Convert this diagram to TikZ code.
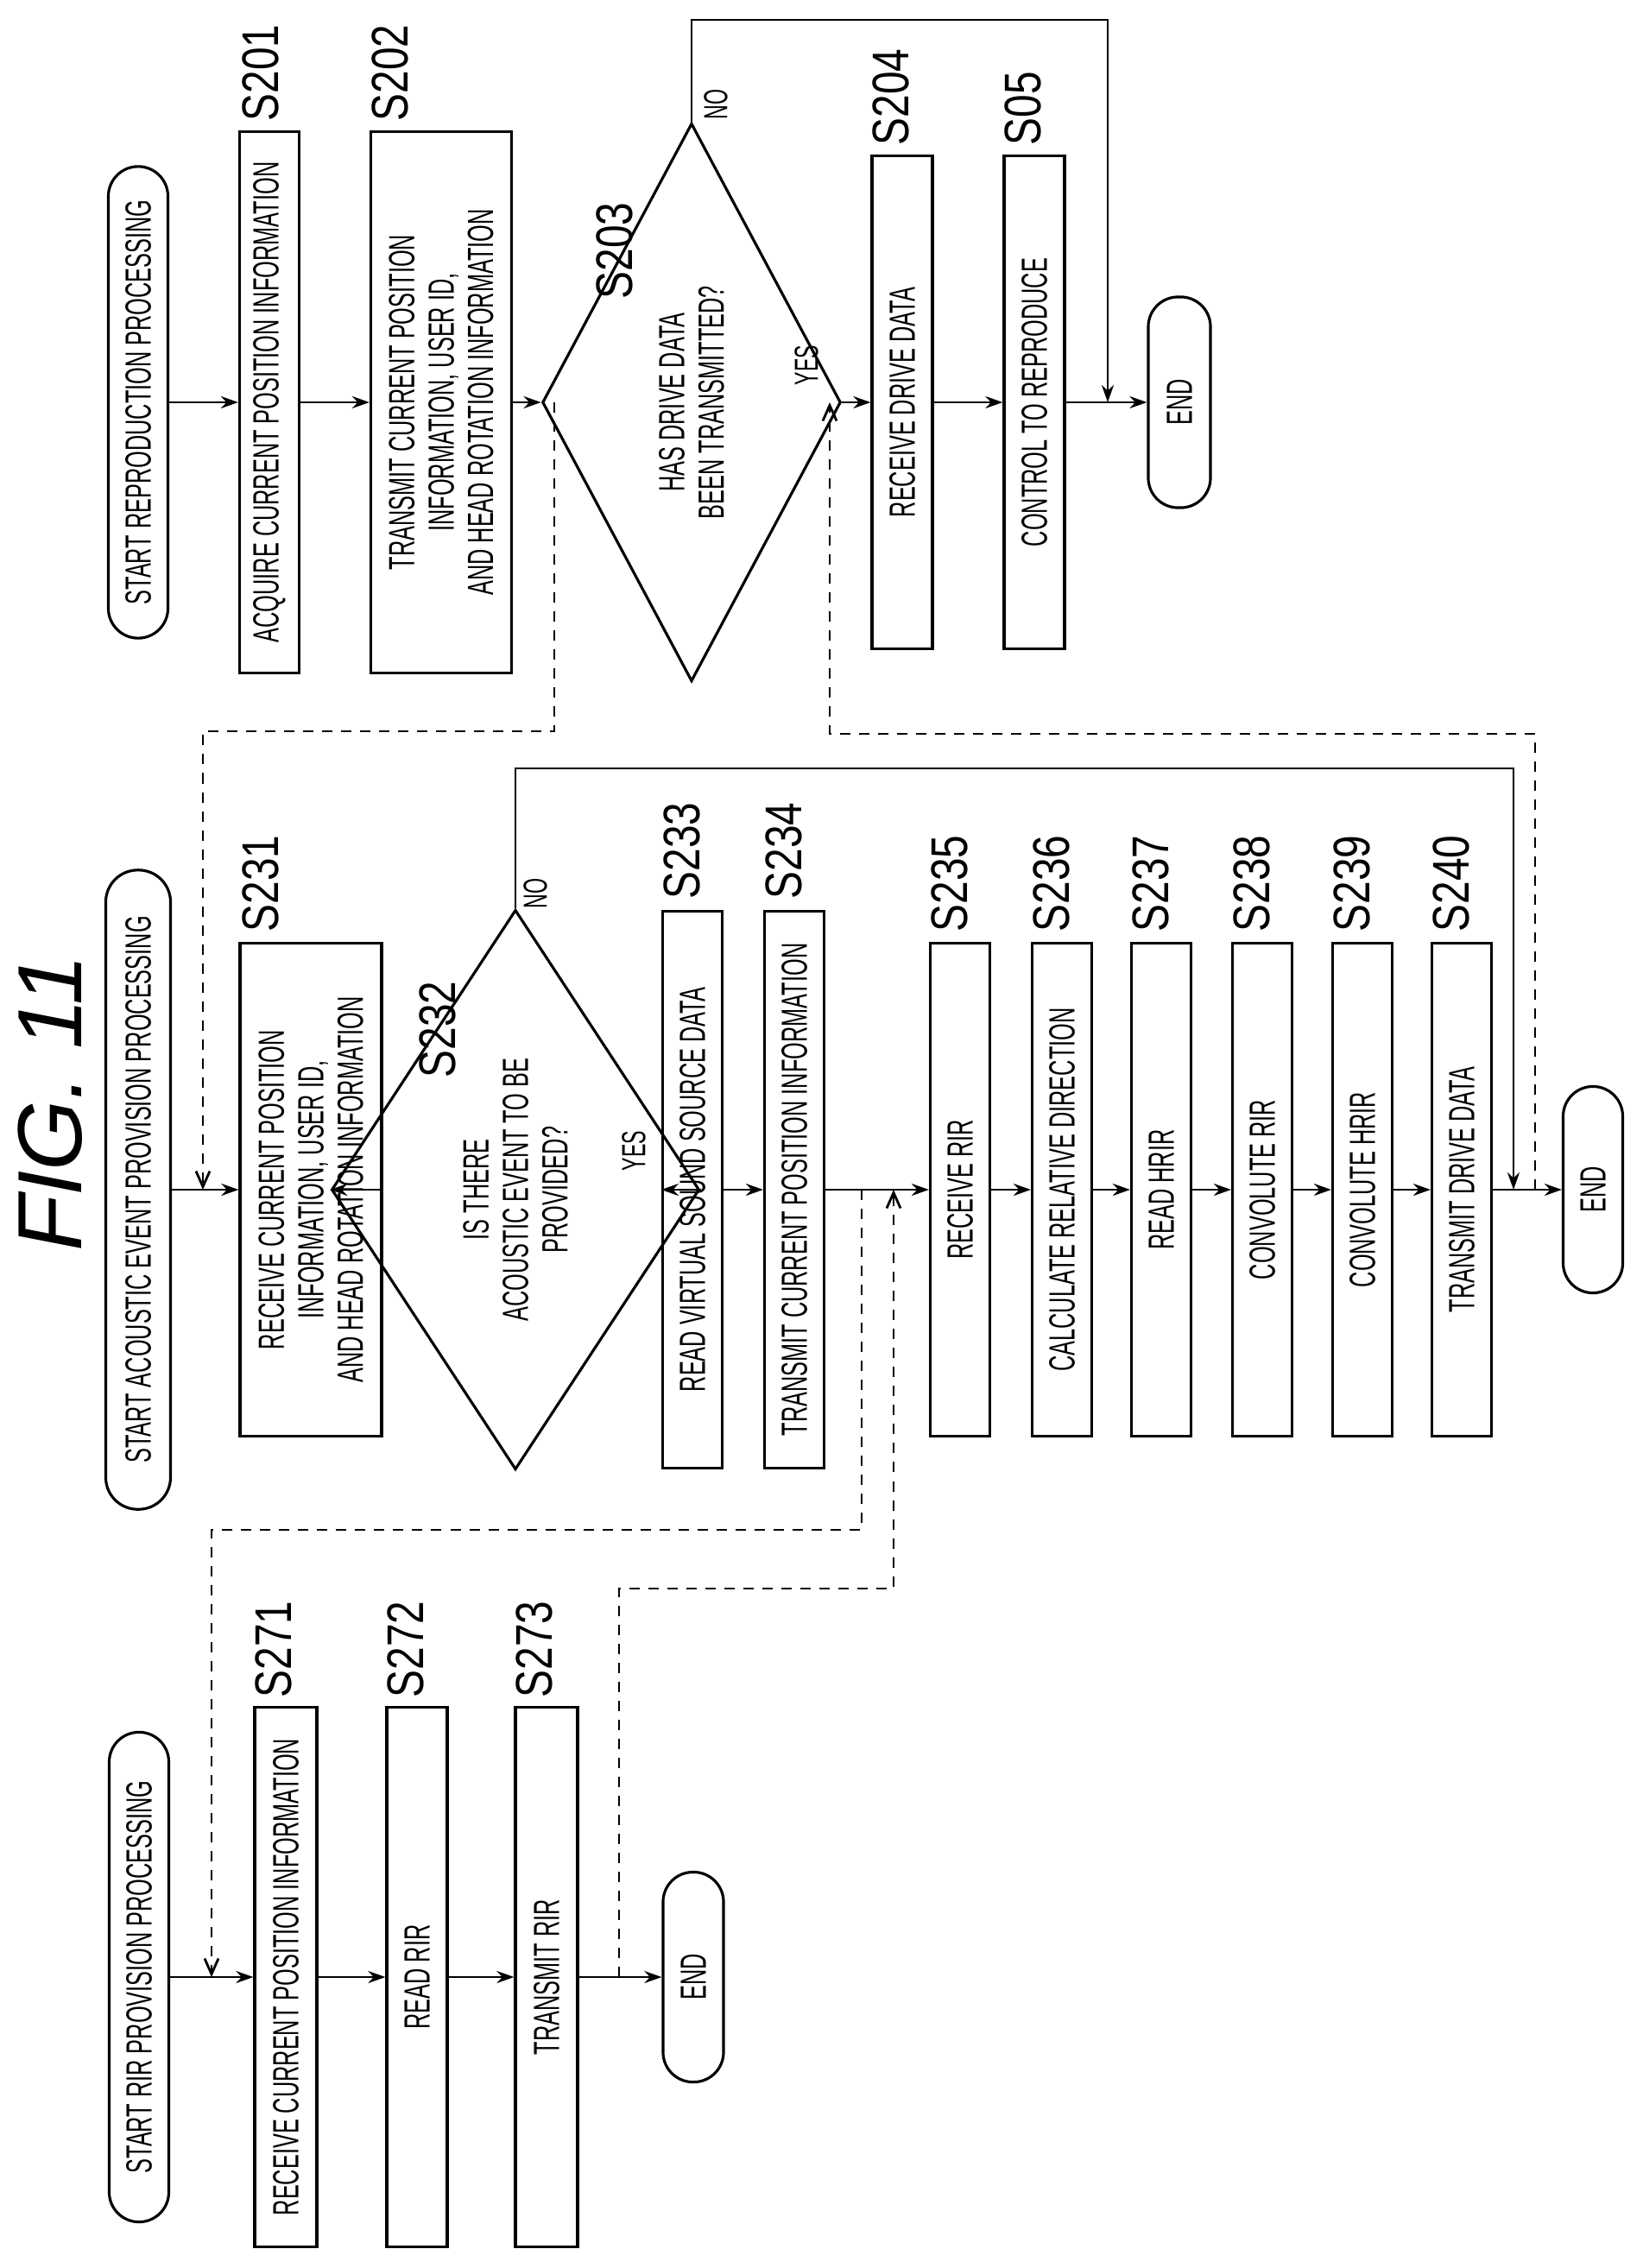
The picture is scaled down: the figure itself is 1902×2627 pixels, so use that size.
\documentclass[tikz,border=0pt]{standalone}
\usepackage{fontspec}
\setmainfont{Liberation Sans}[FakeStretch=0.6]
\newfontfamily\labf{Liberation Sans}[FakeStretch=0.8]
\newfontfamily\figf{Liberation Sans}
\usetikzlibrary{shapes.geometric,arrows.meta}
\begin{document}
\begin{tikzpicture}[x=0.01cm,y=-0.01cm,
  every node/.style={font=\fontsize{12}{13}\selectfont, inner sep=1pt},
  box/.style={draw, line width=0.9pt, rotate=90, align=center, minimum height=#1},
  term/.style={draw, line width=0.9pt, rotate=90, align=center, minimum height=#1, rounded corners=0.345cm},
  dia/.style={draw, diamond, line width=0.9pt, rotate=90, align=center, inner sep=0pt},
  lab/.style={rotate=90, anchor=north west, font=\labf\fontsize{17}{17}\selectfont, inner sep=0pt},
  yn/.style={rotate=90, font=\fontsize{11}{11}\selectfont, inner sep=0pt},
  flow/.style={line width=0.8pt, -{Stealth[length=0.2cm,width=0.14cm]}},
  line/.style={line width=0.8pt},
  dsh/.style={line width=0.8pt, dash pattern=on 0.12cm off 0.1cm, -{Straight Barb[length=0.18cm,width=0.16cm]}}]
\useasboundingbox (0,0) rectangle (1902,2627);

\node[rotate=90, font=\figf\itshape\fontsize{30}{30}\selectfont] (fig) at (58,1278) {FIG. 11};

% ---- Column A
\node[term=0.69cm, minimum width=5.46cm] (sA) at (160,466) {START REPRODUCTION PROCESSING};
\node[box=0.69cm, minimum width=6.27cm] (a1) at (312,466) {ACQUIRE CURRENT POSITION INFORMATION};
\node[box=1.63cm, minimum width=6.27cm] (a2) at (511,466) {TRANSMIT CURRENT POSITION\\INFORMATION, USER ID,\\AND HEAD ROTATION INFORMATION};
\node[dia, minimum width=6.46cm, minimum height=2.2cm] (d3) at (801,466) {HAS DRIVE DATA\\BEEN TRANSMITTED?};
\node[box=0.70cm, minimum width=5.70cm] (a4) at (1045,466) {RECEIVE DRIVE DATA};
\node[box=0.70cm, minimum width=5.70cm] (a5) at (1198,466) {CONTROL TO REPRODUCE};
\node[term=0.72cm, minimum width=2.44cm] (eA) at (1366,466) {END};
\node[lab] (l201) at (280,141) {S201};
\node[lab] (l202) at (430,141) {S202};
\node[lab] (l203) at (690,347) {S203};
\node[lab] (l204) at (1010,169) {S204};
\node[lab] (l205) at (1163,169) {S05};
\node[yn] (noA) at (829,121) {NO};
\node[yn] (yesA) at (934,423) {YES};

\draw[flow] (sA.south) -- (a1.north);
\draw[flow] (a1.south) -- (a2.north);
\draw[flow] (a2.south) -- (d3.north);
\draw[flow] (d3.south) -- (a4.north);
\draw[flow] (a4.south) -- (a5.north);
\draw[flow] (a5.south) -- (eA.north);
\coordinate (nA) at (1283,466);
\draw[flow] (d3.east) -- (801,23) -- (1283,23) -- (nA);

% ---- Column B
\node[term=0.75cm, minimum width=7.40cm, rounded corners=0.37cm] (sB) at (160,1378) {START ACOUSTIC EVENT PROVISION PROCESSING};
\node[box=1.64cm, minimum width=5.71cm] (b1) at (360,1378) {RECEIVE CURRENT POSITION\\INFORMATION, USER ID,\\AND HEAD ROTATION INFORMATION};
\node[dia, minimum width=6.48cm, minimum height=2.15cm] (d2) at (597,1378) {IS THERE\\ACOUSTIC EVENT TO BE\\PROVIDED?};
\node[box=0.69cm, minimum width=6.44cm] (b3) at (802,1378) {READ VIRTUAL SOUND SOURCE DATA};
\node[box=0.69cm, minimum width=6.44cm] (b4) at (920,1378) {TRANSMIT CURRENT POSITION INFORMATION};
\node[box=0.69cm, minimum width=5.71cm] (b5) at (1112,1378) {RECEIVE RIR};
\node[box=0.69cm, minimum width=5.71cm] (b6) at (1230,1378) {CALCULATE RELATIVE DIRECTION};
\node[box=0.69cm, minimum width=5.71cm] (b7) at (1345,1378) {READ HRIR};
\node[box=0.69cm, minimum width=5.71cm] (b8) at (1462,1378) {CONVOLUTE RIR};
\node[box=0.69cm, minimum width=5.71cm] (b9) at (1578,1378) {CONVOLUTE HRIR};
\node[box=0.69cm, minimum width=5.71cm] (b10) at (1693,1378) {TRANSMIT DRIVE DATA};
\node[term=0.69cm, minimum width=2.39cm] (eB) at (1845,1378) {END};
\node[lab] (l231) at (280,1080) {S231};
\node[lab] (l232) at (485,1249) {S232};
\node[lab] (l233) at (768,1042) {S233};
\node[lab] (l234) at (886,1042) {S234};
\node[lab] (l235) at (1078,1080) {S235};
\node[lab] (l236) at (1196,1080) {S236};
\node[lab] (l237) at (1311,1080) {S237};
\node[lab] (l238) at (1428,1080) {S238};
\node[lab] (l239) at (1544,1080) {S239};
\node[lab] (l240) at (1659,1080) {S240};
\node[yn] (noB) at (620,1035) {NO};
\node[yn] (yesB) at (734,1333) {YES};

\draw[flow] (sB.south) -- (b1.north);
\draw[flow] (b1.south) -- (d2.north);
\draw[flow] (d2.south) -- (b3.north);
\draw[flow] (b3.south) -- (b4.north);
\draw[flow] (b4.south) -- (b5.north);
\draw[flow] (b5.south) -- (b6.north);
\draw[flow] (b6.south) -- (b7.north);
\draw[flow] (b7.south) -- (b8.north);
\draw[flow] (b8.south) -- (b9.north);
\draw[flow] (b9.south) -- (b10.north);
\draw[flow] (b10.south) -- (eB.north);
\coordinate (nB) at (1753,1378);
\draw[flow] (d2.east) -- (597,890) -- (1753,890) -- (nB);

% ---- Column C
\node[term=0.69cm, minimum width=5.67cm] (sC) at (161,2290) {START RIR PROVISION PROCESSING};
\node[box=0.72cm, minimum width=6.25cm] (c1) at (331,2290) {RECEIVE CURRENT POSITION INFORMATION};
\node[box=0.70cm, minimum width=6.25cm] (c2) at (483,2290) {READ RIR};
\node[box=0.72cm, minimum width=6.25cm] (c3) at (633,2290) {TRANSMIT RIR};
\node[term=0.70cm, minimum width=2.43cm] (eC) at (803,2290) {END};
\node[lab] (l271) at (295,1967) {S271};
\node[lab] (l272) at (448,1967) {S272};
\node[lab] (l273) at (597,1967) {S273};

\draw[flow] (sC.south) -- (c1.north);
\draw[flow] (c1.south) -- (c2.north);
\draw[flow] (c2.south) -- (c3.north);
\draw[flow] (c3.south) -- (eC.north);

% ---- dashed inter-process connectors
\coordinate (pA1) at (642,466);
\coordinate (pB1) at (235,1378);
\draw[dsh] (pA1) -- (642,847) -- (235,847) -- (pB1);
\coordinate (pB2) at (1778,1378);
\coordinate (pA2) at (961,466);
\draw[dsh] (pB2) -- (1778,850) -- (961,850) -- (pA2);
\coordinate (pB3) at (998,1378);
\coordinate (pC1) at (245,2290);
\draw[dsh] (pB3) -- (998,1772) -- (245,1772) -- (pC1);
\coordinate (pC2) at (717,2290);
\coordinate (pB4) at (1035,1378);
\draw[dsh] (pC2) -- (717,1840) -- (1035,1840) -- (pB4);
\end{tikzpicture}
\end{document}
